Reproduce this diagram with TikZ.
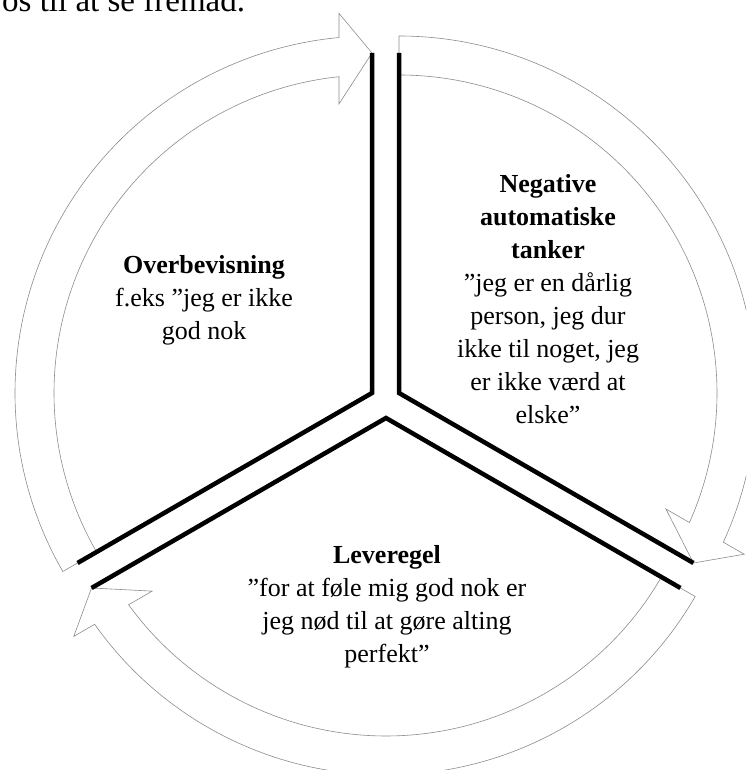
\documentclass[tikz,border=0pt]{standalone}
\usepackage{fontspec}
\setmainfont{Liberation Serif}
\usetikzlibrary{calc}
\definecolor{cycGray}{HTML}{8C8C8C}
\tikzset{
  % curved arrow round the outside of each wedge
  cyc/arrow/.style={draw=cycGray, fill=white, line width=0.6pt, line join=miter},
  % thick straight borders of a wedge
  cyc/edge/.style={draw=black, line width=4.5pt, line join=miter, line cap=butt},
  % wedge texts
  cyc/label/.style={font=\fontsize{26}{33}\selectfont, align=center,
    inner sep=0pt, anchor=north, text=black},
}

\begin{document}
\begin{tikzpicture}[x=1pt,y=1pt]
  \useasboundingbox (0,0) rectangle (746,770);
  \clip (0,0) rectangle (746,770);

  % apex of each (pulled apart) wedge
  \coordinate (L) at (372,377);
  \coordinate (R) at (399,377);
  \coordinate (B) at (386,352);

  \foreach \apex/\te in {L/90, R/-30, B/-150}{
    \begin{scope}[shift={(\apex)}, rotate=\te]
      \draw[cyc/arrow] (120:318) -- (120:357)
        arc[start angle=120, end angle=5.30, radius=357]
        -- (379.6,33) -- (340,0) -- (289.1,33)
        -- (5.96:318) arc[start angle=5.96, end angle=120, radius=318] -- cycle;
    \end{scope}}

  \draw[cyc/edge] ($(L)+(210:340)$) -- (L) -- ($(L)+(90:340)$);
  \draw[cyc/edge] ($(R)+(90:340)$) -- (R) -- ($(R)+(-30:340)$);
  \draw[cyc/edge] ($(B)+(-30:340)$) -- (B) -- ($(B)+(-150:340)$);

  \node[cyc/label] (over) at (204,514.8)
    {\textbf{Overbevisning}\\f.eks ”jeg er ikke\\god nok};
  \node[cyc/label] (neg) at (548,595.5)
    {\textbf{Negative}\\\textbf{automatiske}\\\textbf{tanker}\\”jeg er en dårlig\\person, jeg dur\\ikke til noget, jeg\\er ikke værd at\\elske”};
  \node[cyc/label] (leve) at (387,224.5)
    {\textbf{Leveregel}\\”for at føle mig god nok er\\jeg nød til at gøre alting\\perfekt”};

  \node[font=\fontsize{33}{40}\selectfont, anchor=base west, inner sep=0pt] (prev)
    at (2,758) {os til at se fremad.};
\end{tikzpicture}
\end{document}
